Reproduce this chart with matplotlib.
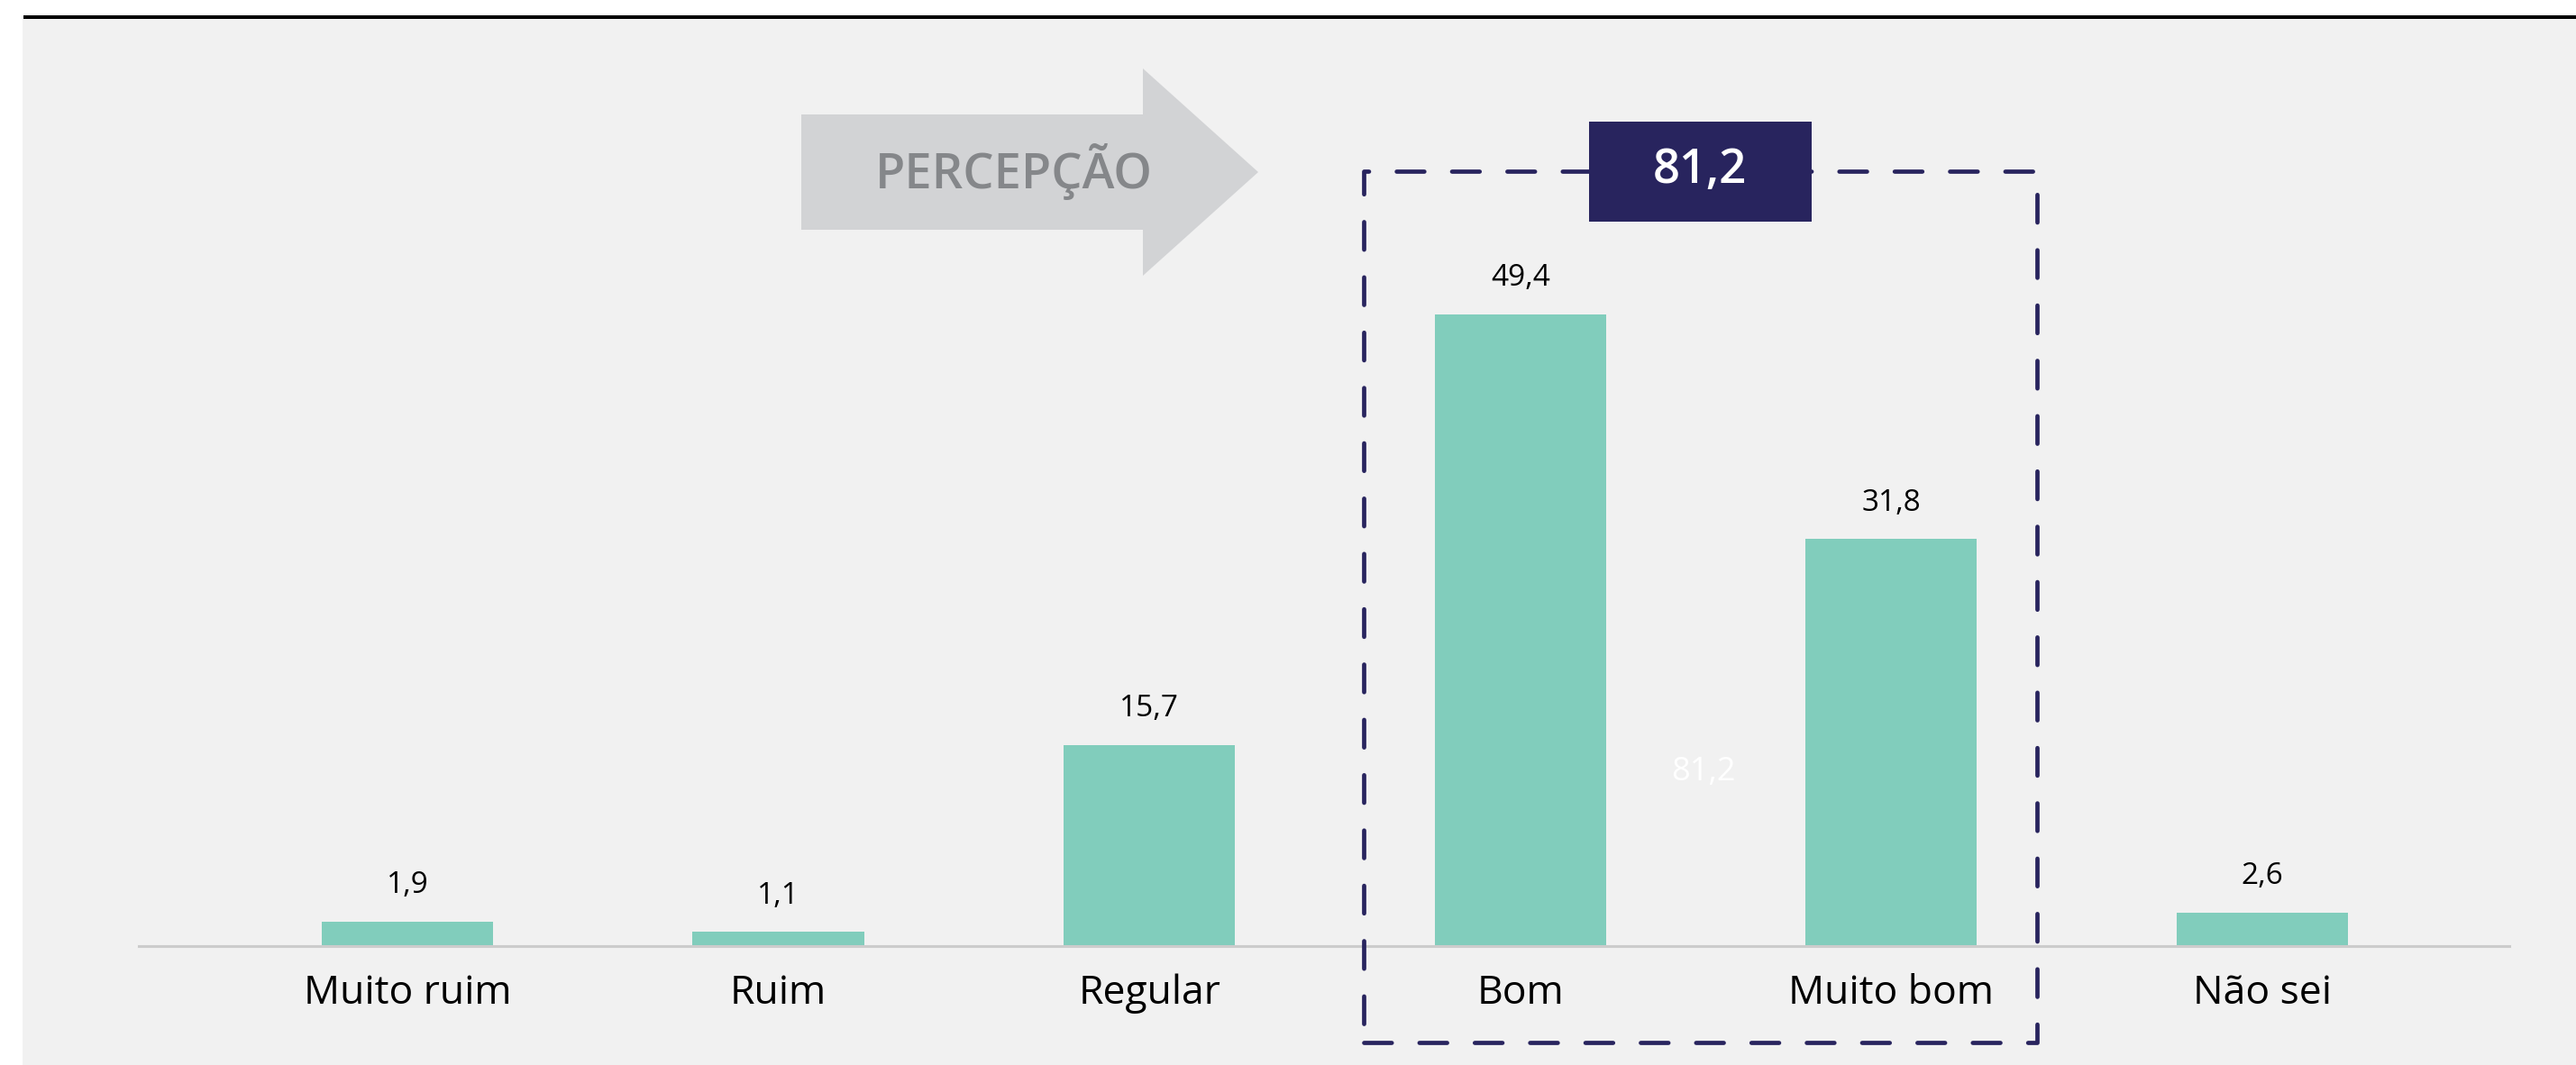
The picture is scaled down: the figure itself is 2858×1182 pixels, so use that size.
""" Percepção: bar chart of the answers, with the Bom + Muito bom total highlighted. """

# Load library.
import matplotlib
matplotlib.use('Agg')
import matplotlib.pyplot as plt
from matplotlib.patches import Rectangle, Polygon

plt.rcParams['font.family'] = ['Open Sans', 'DejaVu Sans']

# Data.
categories = ['Muito ruim', 'Ruim', 'Regular', 'Bom', 'Muito bom', 'Não sei']
values = [1.9, 1.1, 15.7, 49.4, 31.8, 2.6]
value_labels = ['1,9', '1,1', '15,7', '49,4', '31,8', '2,6']
total_label = '81,2'
banner_text = 'PERCEPÇÃO'

W, H = 2858, 1182
fig = plt.figure(figsize=(W / 100, H / 100), dpi=100, facecolor='white')

def fx(px):
    return px / W

def fy(py):
    # py counted from the top of the image
    return 1 - py / H

# Grey panel and black line on top.
fig.add_artist(Rectangle((fx(25), 0), 1 - fx(25), fy(21), transform=fig.transFigure,
                         facecolor='#F1F1F1', edgecolor='none', zorder=0))
fig.add_artist(Rectangle((fx(26), fy(21)), 1 - fx(26), 4 / H, transform=fig.transFigure,
                         facecolor='black', edgecolor='none', zorder=1))

# Axes: baseline at y=1050 px, from x=154 to x=2784 px.
ax = fig.add_axes([fx(154), 1 - 1050 / H, fx(2784 - 154), (1050 - 21) / H])
ax.set_facecolor('none')
px_per_unit = 14.2
ax.set_ylim(0, (1050 - 21) / px_per_unit)
ax.set_xlim(-0.724, 5.666)

x = list(range(len(categories)))
bars = ax.bar(x, values, width=0.462, color='#81CDBC', zorder=2)

for xi, v, lab in zip(x, values, value_labels):
    ax.annotate(lab, (xi, v), xytext=(0, 29), textcoords='offset points',
                ha='center', va='center', fontsize=24, color='black')

ax.set_xticks(x)
ax.set_xticklabels(categories, fontsize=32, color='black')
ax.tick_params(axis='x', length=0, pad=22)
ax.set_yticks([])
for s in ['top', 'left', 'right']:
    ax.spines[s].set_visible(False)
ax.spines['bottom'].set_color('#CCCCCC')
ax.spines['bottom'].set_linewidth(2.2)

# Dashed box around Bom + Muito bom.
box = Rectangle((fx(1513), fy(1157)), fx(2260 - 1513), (1157 - 190) / H,
                transform=fig.transFigure, fill=False, edgecolor='#28245E',
                linewidth=3.4, linestyle=(0, (6.5, 6.5)), capstyle='round',
                joinstyle='round', zorder=3)
fig.add_artist(box)

# Total box on top of the dashed line.
fig.add_artist(Rectangle((fx(1763), fy(246)), fx(2010 - 1763), (246 - 135) / H,
                         transform=fig.transFigure, facecolor='#28245E',
                         edgecolor='none', zorder=4))
fig.text(fx(1886), fy(190), total_label, ha='center', va='center', fontsize=38,
         fontweight='semibold', color='white', zorder=5)

# Faint total label between the two bars.
fig.text(fx(1890), fy(857), total_label, ha='center', va='center', fontsize=26,
         color='white', zorder=5)

# Arrow banner.
arrow_pts = [(889, 127), (1268, 127), (1268, 76), (1396, 191),
             (1268, 306), (1268, 255), (889, 255)]
fig.add_artist(Polygon([(fx(a), fy(b)) for a, b in arrow_pts], closed=True,
                       transform=fig.transFigure, facecolor='#D2D3D5',
                       edgecolor='none', zorder=3))
fig.text(fx(1125), fy(190), banner_text, ha='center', va='center', fontsize=39,
         fontweight='semibold', color='#85878A', zorder=4)

fig.savefig('out.png', dpi=100, facecolor=fig.get_facecolor())
